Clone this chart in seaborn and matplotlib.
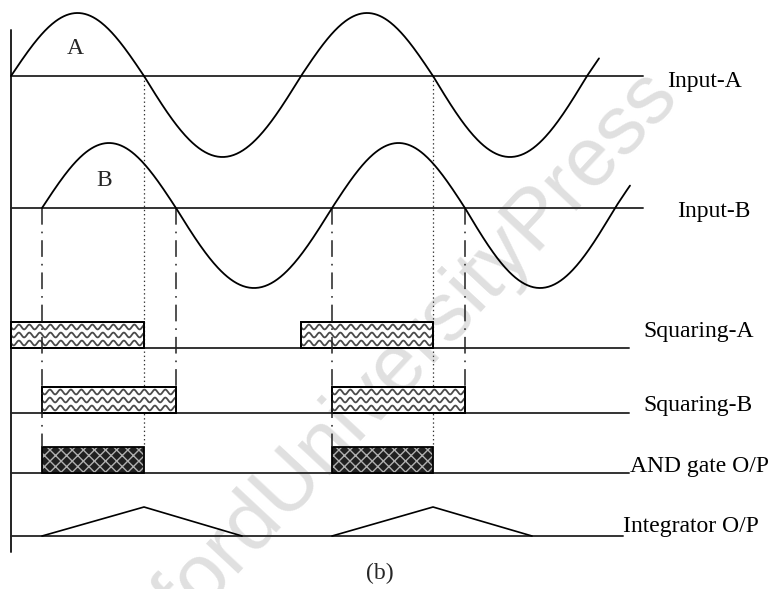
import numpy as np
import pandas as pd
import matplotlib
matplotlib.use("Agg")
import matplotlib.pyplot as plt
import seaborn as sns
from matplotlib.patches import Rectangle

# ---------------- data (time axis in drawing units) ----------------
a_cross = [11, 144, 301, 433, 587]      # zero crossings of Input-A
a_end = 599
a_amp = [63, 81]                        # positive / negative half amplitude
b_cross = [42, 176, 332, 465, 615]      # zero crossings of Input-B
b_end = 630
b_amp = [65, 80]
integ_t = [42, 144, 242, 332, 433, 532]  # integrator ramp corner times
integ_v = [0, 29, 0, 0, 29, 0]
integ_pulse = [0, 0, 0, 1, 1, 1]
labels = ["Input-A", "Input-B", "Squaring-A", "Squaring-B", "AND gate O/P", "Integrator O/P"]

# ---------------- layout ----------------
W, H = 771, 589
base = [76, 208, 348, 413, 473, 536]
line_end = [643, 643, 629, 629, 629, 623]
bar_h = 26

sns.set_style("white")
plt.rcParams["font.family"] = ["Liberation Serif", "DejaVu Serif"]
plt.rcParams["lines.scale_dashes"] = False
plt.rcParams["hatch.linewidth"] = 1.0

fig = plt.figure(figsize=(7.71, 5.89), dpi=100)
ax = fig.add_axes([0, 0, 1, 1])
ax.set_xlim(0, W)
ax.set_ylim(H, 0)
ax.axis("off")

# watermark
ax.text(380, 385, "OxfordUniversityPress", rotation=47, rotation_mode="anchor",
        ha="center", va="center", fontsize=60, color="#e0e0e0",
        family=["Liberation Sans", "DejaVu Sans"], zorder=0)


def wave(cross, end, amp):
    xs, ys = [], []
    segs = list(zip(cross[:-1], cross[1:]))
    segs.append((cross[-1], cross[-1] + (cross[1] - cross[0])))
    for i, (c0, c1) in enumerate(segs):
        t = np.linspace(c0, c1, 150)
        if i == len(segs) - 1:
            t = np.append(t[t < end], end)
        sgn = 1 if i % 2 == 0 else -1
        a = amp[0] if sgn > 0 else amp[1]
        xs.extend(t)
        ys.extend(sgn * a * np.sin(np.pi * (t - c0) / (c1 - c0)))
    return np.array(xs), np.array(ys)


xa, va = wave(a_cross, a_end, a_amp)
xb, vb = wave(b_cross, b_end, b_amp)
df = pd.concat([
    pd.DataFrame({"t": xa, "y": base[0] - va, "sig": "A"}),
    pd.DataFrame({"t": xb, "y": base[1] - vb, "sig": "B"}),
])
sns.lineplot(data=df, x="t", y="y", units="sig", estimator=None, sort=False,
             color="black", lw=1.3, ax=ax, zorder=4)

# baselines and vertical axis
for yb, xe in zip(base, line_end):
    ax.plot([a_cross[0], xe], [yb, yb], color="#333333", lw=1.4, zorder=2)
ax.plot([a_cross[0], a_cross[0]], [30, 552], color="#222222", lw=1.4, zorder=2)


def pulses(cross):
    return [(cross[i], cross[i + 1]) for i in range(0, len(cross) - 1, 2)]


sqa = pulses(a_cross)
sqb = pulses(b_cross)
andp = [(max(p[0], q[0]), min(p[1], q[1])) for p, q in zip(sqa, sqb)]


def wavy_bar(x0, x1, yb):
    rect = Rectangle((x0, yb - bar_h), x1 - x0, bar_h, facecolor="white",
                     edgecolor="black", lw=1.3, zorder=3)
    ax.add_patch(rect)
    xx = np.arange(x0 - 2, x1 + 2, 0.4)
    for off in (5.0, 13.0, 21.0):
        ln, = ax.plot(xx, yb - bar_h + off + 2.4 * np.sin(2 * np.pi * (xx - x0) / 10.5),
                      color="#4a4a4a", lw=1.3, zorder=3.2)
        ln.set_clip_path(rect)
    ax.add_patch(Rectangle((x0, yb - bar_h), x1 - x0, bar_h, fill=False,
                           edgecolor="black", lw=1.3, zorder=3.5))


for x0, x1 in sqa:
    wavy_bar(x0, x1, base[2])
for x0, x1 in sqb:
    wavy_bar(x0, x1, base[3])

for x0, x1 in andp:
    ax.bar(x0, -bar_h, width=x1 - x0, bottom=base[4], align="edge",
           facecolor="#202020", edgecolor="#b0b0b0", hatch="xxx", lw=0, zorder=3)
    ax.bar(x0, -bar_h, width=x1 - x0, bottom=base[4], align="edge",
           fill=False, edgecolor="black", lw=1.3, zorder=3.5)

# integrator
dfi = pd.DataFrame({"t": integ_t, "y": [base[5] - v for v in integ_v], "p": integ_pulse})
sns.lineplot(data=dfi, x="t", y="y", units="p", estimator=None, sort=False,
             color="black", lw=1.2, ax=ax, zorder=4)

# guide lines
for x in [a_cross[1], a_cross[3]]:
    ax.plot([x, x], [base[0], base[4] - bar_h], color="#333333", lw=0.9,
            ls=(0, (1, 2)), zorder=2.5)
for x in [b_cross[0], b_cross[2]]:
    ax.plot([x, x], [base[1], base[4] - bar_h], color="#222222", lw=1.1,
            ls=(0, (12, 5, 1.2, 5)), zorder=3.6)
for x in [b_cross[1], b_cross[3]]:
    ax.plot([x, x], [base[1], base[3] - bar_h], color="#222222", lw=1.1,
            ls=(0, (12, 5, 1.2, 5)), zorder=3.6)

# labels
fs = 17
pos = [(667, 82, "center"), (677, 211, "center"), (643, 332, "center"),
       (643, 406, "center"), (630, 472, "baseline"), (623, 532, "baseline")]
for (x, y, va_), lab in zip(pos, labels):
    ax.text(x, y, lab, ha="left", va=va_, fontsize=fs, color="black")
ax.text(75, 48, "A", ha="center", va="center", fontsize=fs)
ax.text(104, 180, "B", ha="center", va="center", fontsize=fs)
ax.text(380, 573, "(b)", ha="center", va="center", fontsize=fs)

fig.savefig("out.png", dpi=100)
